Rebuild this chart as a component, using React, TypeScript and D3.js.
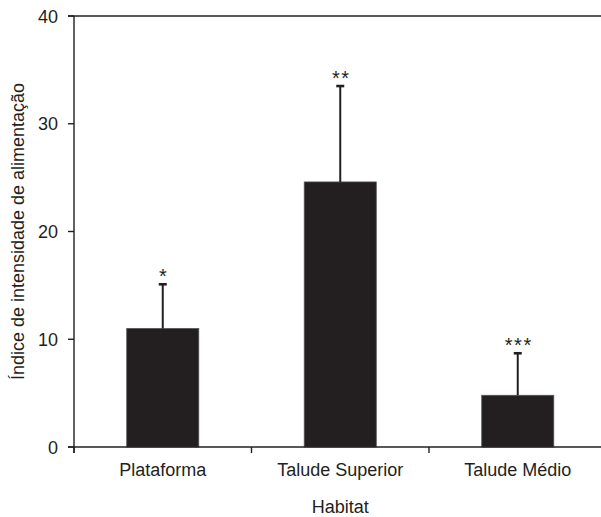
import React, { useEffect, useRef } from 'react';
import * as d3 from 'd3';

const categories = ['Plataforma', 'Talude Superior', 'Talude Médio'];
const means = [11.0, 24.6, 4.8];
const errors = [4.1, 8.9, 3.9];
const marks = ['*', '**', '***'];
const yTicks = [0, 10, 20, 30, 40];

const W = 601;
const H = 517;
const ink = '#231f20';

const App = () => {
  const ref = useRef<SVGSVGElement | null>(null);

  useEffect(() => {
    const svg = d3.select(ref.current);
    svg.selectAll('*').remove();

    const left = 74;
    const right = 606.5;
    const top = 16;
    const bottom = 447;

    const x = d3.scaleBand<string>().domain(categories).range([left, right]).padding(0);
    const y = d3.scaleLinear().domain([0, 40]).range([bottom, top]);
    const barW = x.bandwidth() * 0.406;
    const font = '"Liberation Sans", Arial, sans-serif';

    const g = svg.append('g');

    // bars
    g.selectAll('.bar')
      .data(categories)
      .enter()
      .append('rect')
      .attr('x', (d) => x(d)! + x.bandwidth() / 2 - barW / 2)
      .attr('y', (d, i) => y(means[i]))
      .attr('width', barW)
      .attr('height', (d, i) => bottom - y(means[i]))
      .attr('fill', ink)
      .attr('stroke', '#555')
      .attr('stroke-width', 0.8);

    // error bars + significance marks
    categories.forEach((c, i) => {
      const cx = x(c)! + x.bandwidth() / 2;
      const yTop = y(means[i] + errors[i]);
      g.append('line')
        .attr('x1', cx).attr('x2', cx)
        .attr('y1', y(means[i])).attr('y2', yTop)
        .attr('stroke', ink).attr('stroke-width', 2);
      g.append('line')
        .attr('x1', cx - 4).attr('x2', cx + 4)
        .attr('y1', yTop).attr('y2', yTop)
        .attr('stroke', ink).attr('stroke-width', 2.6);
      g.append('text')
        .attr('x', cx + 1)
        .attr('y', yTop - 1)
        .attr('text-anchor', 'middle')
        .attr('font-family', font)
        .attr('font-size', 20)
        .attr('letter-spacing', 1.5)
        .attr('fill', ink)
        .text(marks[i]);
    });

    // axes
    g.append('line')
      .attr('x1', left).attr('x2', left).attr('y1', top).attr('y2', bottom + 6)
      .attr('stroke', ink).attr('stroke-width', 1.4);
    g.append('line')
      .attr('x1', left - 6).attr('x2', right).attr('y1', bottom).attr('y2', bottom)
      .attr('stroke', ink).attr('stroke-width', 1.4);
    g.append('line')
      .attr('x1', left - 6).attr('x2', right).attr('y1', top).attr('y2', top)
      .attr('stroke', ink).attr('stroke-width', 1.4);

    yTicks.forEach((t) => {
      g.append('line')
        .attr('x1', left - 6).attr('x2', left).attr('y1', y(t)).attr('y2', y(t))
        .attr('stroke', ink).attr('stroke-width', 1.4);
      g.append('text')
        .attr('x', left - 16)
        .attr('y', y(t) + 6.5)
        .attr('text-anchor', 'end')
        .attr('font-family', font)
        .attr('font-size', 18)
        .attr('fill', ink)
        .text(t);
    });

    const bounds = categories.map((c) => x(c)!).concat([right]);
    bounds.forEach((b) => {
      g.append('line')
        .attr('x1', b).attr('x2', b).attr('y1', bottom).attr('y2', bottom + 6)
        .attr('stroke', ink).attr('stroke-width', 1.4);
    });

    categories.forEach((c) => {
      g.append('text')
        .attr('x', x(c)! + x.bandwidth() / 2)
        .attr('y', 475.5)
        .attr('text-anchor', 'middle')
        .attr('font-family', font)
        .attr('font-size', 18)
        .attr('fill', ink)
        .text(c);
    });

    g.append('text')
      .attr('x', (left + right) / 2)
      .attr('y', 513)
      .attr('text-anchor', 'middle')
      .attr('font-family', font)
      .attr('font-size', 18)
      .attr('fill', ink)
      .text('Habitat');

    g.append('text')
      .attr('transform', `translate(24, ${(top + bottom) / 2}) rotate(-90)`)
      .attr('text-anchor', 'middle')
      .attr('font-family', font)
      .attr('font-size', 18)
      .attr('fill', ink)
      .text('Índice de intensidade de alimentação');
  }, []);

  return (
    <div style={{ position: 'absolute', left: 0, top: 0 }}>
      <svg ref={ref} width={W} height={H} style={{ display: 'block', background: '#fff' }} />
    </div>
  );
};

export default App;
